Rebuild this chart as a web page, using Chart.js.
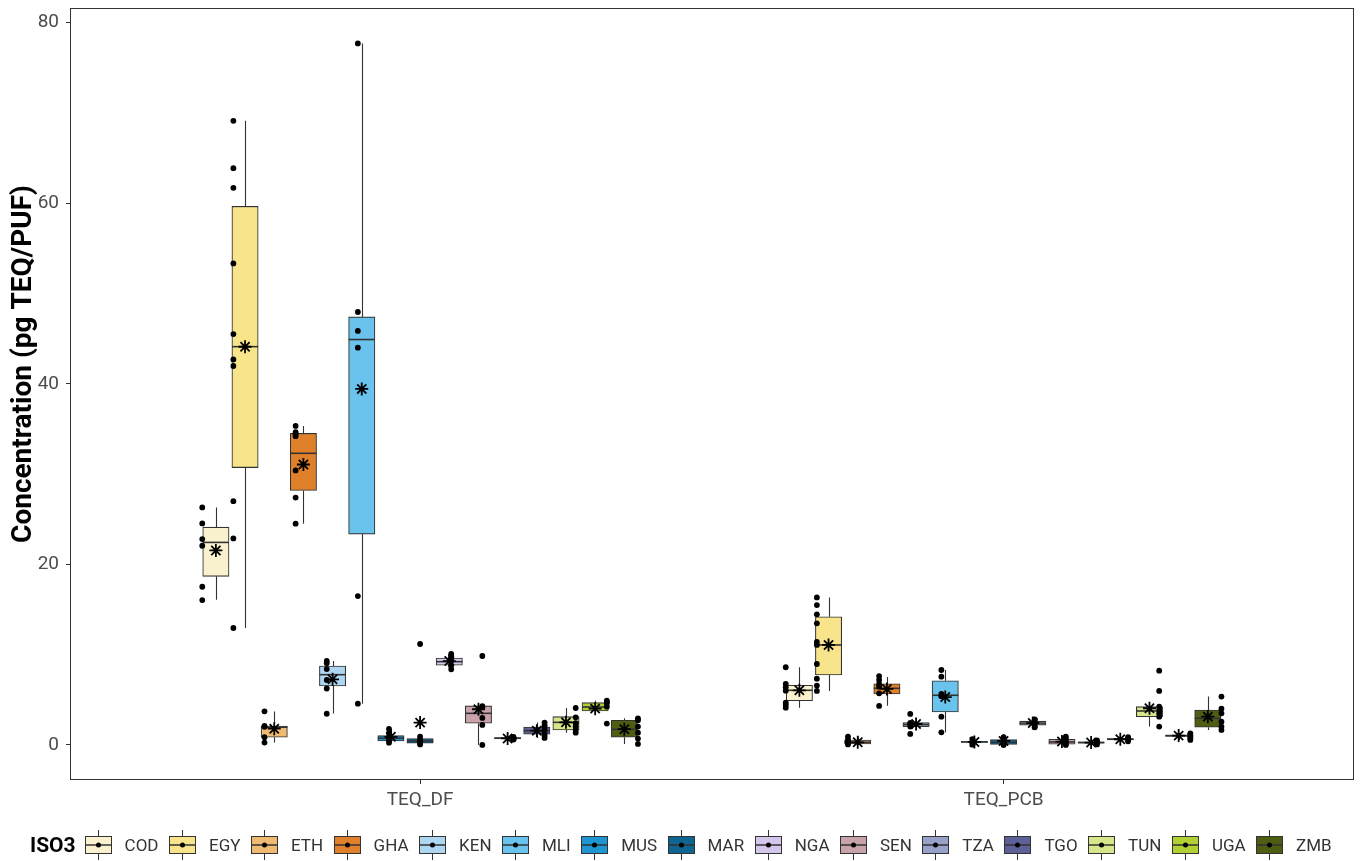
<!DOCTYPE html>
<html>
<head>
<meta charset="utf-8">
<script src="https://cdn.jsdelivr.net/npm/chart.js@4.4.1/dist/chart.umd.min.js"></script>
<style>
  html, body { margin: 0; padding: 0; background: #fff; }
  #wrap { position: relative; width: 1362px; height: 861px; overflow: hidden; }
  #chart { position: absolute; left: 0; top: 0; }
  #legend {
    position: absolute; left: 30px; top: 830px; height: 30px;
    display: flex; align-items: center;
    font-family: Roboto, sans-serif; font-size: 17px; color: #333;
  }
  #legend .title { font-weight: bold; font-size: 21px; color: #000; margin-right: 9px; }
  #legend .item { display: flex; align-items: center; margin-right: 10.5px; }
  #legend svg { display: block; margin-right: 13px; }
</style>
</head>
<body>
<div id="wrap">
  <canvas id="chart" width="1362" height="861"></canvas>
  <div id="legend"></div>
</div>
<script>
// Sampling groups on the x axis
const groups = ['TEQ_DF', 'TEQ_PCB'];

// Countries (ISO3) and their fill colours
const countries = ['COD', 'EGY', 'ETH', 'GHA', 'KEN', 'MLI', 'MUS', 'MAR', 'NGA', 'SEN', 'TZA', 'TGO', 'TUN', 'UGA', 'ZMB'];
const fillColors = ['#FAF2CE', '#F8E48B', '#EFBA72', '#E0802B', '#AED6F1', '#69C3EC', '#1D96D2', '#0F6591',
                    '#D5C7EC', '#C8A3AA', '#98A2C8', '#5D6198', '#D6E68A', '#B0D033', '#4D5E13'];

// Box statistics per country: [lower whisker, Q1, median, Q3, upper whisker]
const dfBoxes = [
  [16.08, 18.67, 22.43, 24.12, 26.30],
  [12.95, 30.72, 44.11, 59.64, 69.12],
  [0.26, 0.85, 1.96, 2.10, 3.70],
  [24.50, 28.18, 32.30, 34.50, 35.33],
  [3.47, 6.53, 7.78, 8.74, 9.30],
  [4.57, 23.35, 44.90, 47.40, 77.70],
  [0.25, 0.44, 0.74, 1.03, 1.77],
  [0.05, 0.19, 0.44, 0.70, 0.92],
  [8.38, 8.82, 9.22, 9.63, 10.07],
  [0.00, 2.40, 3.50, 4.32, 4.32],
  [0.60, 0.68, 0.74, 0.80, 0.90],
  [0.77, 1.18, 1.58, 1.99, 2.47],
  [1.36, 1.66, 2.50, 3.13, 4.09],
  [3.76, 3.76, 4.20, 4.68, 4.90],
  [0.11, 0.85, 1.73, 2.73, 2.95]
];
const pcbBoxes = [
  [4.13, 4.90, 6.05, 6.60, 8.60],
  [5.98, 7.75, 11.07, 14.20, 16.34],
  [0.05, 0.10, 0.30, 0.55, 0.92],
  [4.35, 5.64, 6.27, 6.78, 7.52],
  [2.03, 2.03, 2.25, 2.47, 2.47],
  [1.40, 3.65, 5.50, 7.10, 8.30],
  [0.05, 0.28, 0.33, 0.40, 0.63],
  [0.00, 0.05, 0.29, 0.59, 0.85],
  [1.90, 2.20, 2.42, 2.63, 2.80],
  [0.00, 0.08, 0.33, 0.63, 0.92],
  [0.00, 0.20, 0.26, 0.33, 0.50],
  [0.40, 0.55, 0.63, 0.70, 0.85],
  [2.03, 3.13, 3.76, 4.24, 4.24],
  [0.55, 0.95, 1.03, 1.10, 1.29],
  [1.66, 1.96, 2.95, 3.87, 5.35]
];

// Arithmetic means per country
const dfMeans  = [21.54, 44.10, 1.80, 31.06, 7.27, 39.43, 0.90, 2.47, 9.29, 3.95, 0.72, 1.58, 2.50, 4.02, 1.74];
const pcbMeans = [6.05, 11.07, 0.29, 6.20, 2.32, 5.30, 0.33, 0.44, 2.42, 0.37, 0.26, 0.63, 4.06, 1.03, 3.13];

// Individual samples (pg TEQ/PUF)
const dfSamples = [
  [26.30, 24.53, 22.80, 22.06, 17.52, 16.04],
  [69.12, 63.88, 61.70, 53.33, 45.50, 42.70, 41.97, 27.00, 22.87, 12.95],
  [3.72, 2.10, 2.00, 0.85, 0.26],
  [35.33, 34.63, 34.40, 34.20, 30.40, 27.40, 24.50],
  [9.30, 9.05, 8.40, 7.19, 6.25, 3.45],
  [77.70, 47.95, 45.85, 44.00, 16.49, 4.57],
  [1.77, 1.29, 0.85, 0.60, 0.25],
  [11.18, 0.92, 0.60, 0.40, 0.20, 0.05],
  [10.07, 9.85, 9.59, 9.33, 8.82, 8.38],
  [9.85, 4.30, 4.17, 2.99, 2.21, 0.00],
  [0.90, 0.80, 0.72, 0.65, 0.60],
  [2.47, 2.18, 1.92, 1.62, 1.33, 1.04, 0.77],
  [4.09, 3.06, 2.40, 2.03, 1.66, 1.36],
  [4.90, 4.75, 4.60, 4.24, 2.36],
  [2.95, 2.73, 2.03, 1.36, 0.70, 0.11]
];
const pcbSamples = [
  [8.60, 6.75, 6.38, 6.01, 4.68, 4.43, 4.13],
  [16.34, 15.49, 14.46, 13.47, 11.40, 11.07, 8.96, 7.34, 6.57, 5.98],
  [0.92, 0.60, 0.40, 0.20, 0.05],
  [7.63, 7.19, 6.75, 6.45, 5.72, 4.32],
  [3.43, 2.45, 2.30, 2.03, 1.22],
  [8.30, 7.56, 5.64, 5.40, 3.13, 1.40],
  [0.63, 0.45, 0.30, 0.15, 0.03],
  [0.85, 0.55, 0.35, 0.20, 0.00],
  [2.83, 2.60, 2.42, 2.20, 1.95],
  [0.92, 0.70, 0.40, 0.15, 0.00],
  [0.50, 0.33, 0.20, 0.05],
  [0.85, 0.70, 0.55, 0.40],
  [8.22, 5.98, 4.24, 3.87, 3.50, 3.13, 2.03],
  [1.29, 1.10, 0.95, 0.75, 0.55],
  [5.35, 4.02, 3.50, 2.58, 2.03, 1.66]
];

// Y tick values and axis title
const yTicks = [0, 20, 40, 60, 80];
const yTitle = 'Concentration (pg TEQ/PUF)';

const FONT = 'Roboto, "Liberation Sans", sans-serif';
const INK = '#333333';
const nC = countries.length;
const boxDodge = 0.75;    // total dodge width of the boxes in a group
const pointDodge = 0.8;   // total dodge width of the sample columns
const boxesByGroup = [dfBoxes, pcbBoxes];
const meansByGroup = [dfMeans, pcbMeans];
const samplesByGroup = [dfSamples, pcbSamples];

function boxX(g, i) { return (g + 1) + (i - (nC - 1) / 2) * (boxDodge / nC); }
function pointX(g, i) { return (g + 1) + (i - (nC - 1) / 2) * (pointDodge / nC); }

const datasets = [];
countries.forEach((c, i) => {
  datasets.push({
    type: 'bar',
    label: c,
    order: 3,
    grouped: false,
    barThickness: 26.3,
    data: groups.map((_, g) => ({ x: boxX(g, i), y: [boxesByGroup[g][i][1], boxesByGroup[g][i][3]] })),
    stats: groups.map((_, g) => boxesByGroup[g][i]),
    backgroundColor: fillColors[i],
    borderColor: INK,
    borderWidth: 1.1,
    borderSkipped: false
  });
  const pts = [];
  groups.forEach((_, g) => samplesByGroup[g][i].forEach(v => pts.push({ x: pointX(g, i), y: v })));
  datasets.push({
    type: 'scatter',
    label: c + ' samples',
    order: 2,
    data: pts,
    pointRadius: 2.9,
    pointBackgroundColor: '#000',
    pointBorderWidth: 0
  });
  datasets.push({
    type: 'scatter',
    label: c + ' mean',
    order: 1,
    data: groups.map((_, g) => ({ x: boxX(g, i), y: meansByGroup[g][i] })),
    pointStyle: 'star',
    pointRadius: 6.5,
    pointBorderColor: '#000',
    pointBorderWidth: 1.8,
    pointBackgroundColor: '#000'
  });
});

// Whiskers under each box, median line on top of it
const boxParts = {
  id: 'boxParts',
  beforeDatasetDraw(chart, args) {
    const ds = chart.data.datasets[args.index];
    if (args.meta.type !== 'bar') return;
    const y = chart.scales.y, ctx = chart.ctx;
    ctx.save();
    ctx.strokeStyle = INK;
    ctx.lineWidth = 1.1;
    args.meta.data.forEach((el, j) => {
      const s = ds.stats[j];
      const xp = Math.round(el.x) + 0.5;
      ctx.beginPath();
      ctx.moveTo(xp, y.getPixelForValue(s[0]));
      ctx.lineTo(xp, y.getPixelForValue(s[1]));
      ctx.moveTo(xp, y.getPixelForValue(s[3]));
      ctx.lineTo(xp, y.getPixelForValue(s[4]));
      ctx.stroke();
    });
    ctx.restore();
  },
  afterDatasetDraw(chart, args) {
    const ds = chart.data.datasets[args.index];
    if (args.meta.type !== 'bar') return;
    const y = chart.scales.y, ctx = chart.ctx;
    ctx.save();
    ctx.strokeStyle = INK;
    ctx.lineWidth = 1.6;
    args.meta.data.forEach((el, j) => {
      const s = ds.stats[j];
      const yp = y.getPixelForValue(s[2]);
      ctx.beginPath();
      ctx.moveTo(el.x - el.width / 2, yp);
      ctx.lineTo(el.x + el.width / 2, yp);
      ctx.stroke();
    });
    ctx.restore();
  }
};

// Panel border and the rotated y-axis title
const panelFrame = {
  id: 'panelFrame',
  afterDraw(chart) {
    const a = chart.chartArea, ctx = chart.ctx;
    ctx.save();
    ctx.strokeStyle = INK;
    ctx.lineWidth = 1;
    ctx.strokeRect(Math.round(a.left) + 0.5, Math.round(a.top) + 0.5,
                   Math.round(a.right - a.left) - 1, Math.round(a.bottom - a.top) - 1);
    ctx.translate(24, 364);
    ctx.rotate(-Math.PI / 2);
    ctx.font = 'bold 28px ' + FONT;
    ctx.fillStyle = '#000';
    ctx.textAlign = 'center';
    ctx.textBaseline = 'middle';
    ctx.fillText(yTitle, 0, 0);
    ctx.restore();
  }
};

new Chart(document.getElementById('chart'), {
  type: 'bar',
  data: { datasets },
  plugins: [boxParts, panelFrame],
  options: {
    responsive: false,
    animation: false,
    layout: { padding: { left: 0, right: 7, top: 8, bottom: 0 } },
    plugins: { legend: { display: false }, tooltip: { enabled: false } },
    scales: {
      x: {
        type: 'linear',
        min: 0.4, max: 2.6,
        offset: false,
        afterBuildTicks(scale) { scale.ticks = groups.map((_, g) => ({ value: g + 1 })); },
        afterFit(scale) {
          scale.height = 81;
          scale.paddingLeft = 0; scale.paddingRight = 0;
        },
        ticks: {
          callback: (v) => groups[Math.round(v) - 1],
          font: { family: FONT, size: 19 },
          color: '#4D4D4D',
          padding: 5,
          maxRotation: 0
        },
        grid: { offset: false, drawOnChartArea: false, drawTicks: true, tickLength: 4, tickColor: INK, lineWidth: 1 },
        border: { display: false }
      },
      y: {
        type: 'linear',
        min: -3.885, max: 81.585,
        afterBuildTicks(scale) { scale.ticks = yTicks.map(v => ({ value: v })); },
        afterFit(scale) {
          scale.width = 70;
          scale.paddingTop = 0; scale.paddingBottom = 0;
        },
        ticks: {
          font: { family: FONT, size: 19 },
          color: '#4D4D4D',
          padding: 7
        },
        grid: { drawOnChartArea: false, drawTicks: true, tickLength: 4, tickColor: INK, lineWidth: 1 },
        border: { display: false },
        title: { display: false }
      }
    }
  }
});

// Legend: boxplot key glyph followed by the country code
const legend = document.getElementById('legend');
const title = document.createElement('span');
title.className = 'title';
title.textContent = 'ISO3';
legend.appendChild(title);
countries.forEach((c, i) => {
  const item = document.createElement('div');
  item.className = 'item';
  item.innerHTML =
    '<svg width="27" height="30" viewBox="0 0 27 30">' +
    '<line x1="13.5" y1="0" x2="13.5" y2="6" stroke="' + INK + '" stroke-width="1"/>' +
    '<rect x="0.5" y="6.5" width="26" height="17" fill="' + fillColors[i] + '" stroke="' + INK + '" stroke-width="1"/>' +
    '<line x1="1" y1="15" x2="26" y2="15" stroke="' + INK + '" stroke-width="1.5"/>' +
    '<line x1="13.5" y1="24" x2="13.5" y2="30" stroke="' + INK + '" stroke-width="1"/>' +
    '<circle cx="13.5" cy="15" r="2.5" fill="#000"/>' +
    '</svg><span>' + c + '</span>';
  legend.appendChild(item);
});
</script>
</body>
</html>
